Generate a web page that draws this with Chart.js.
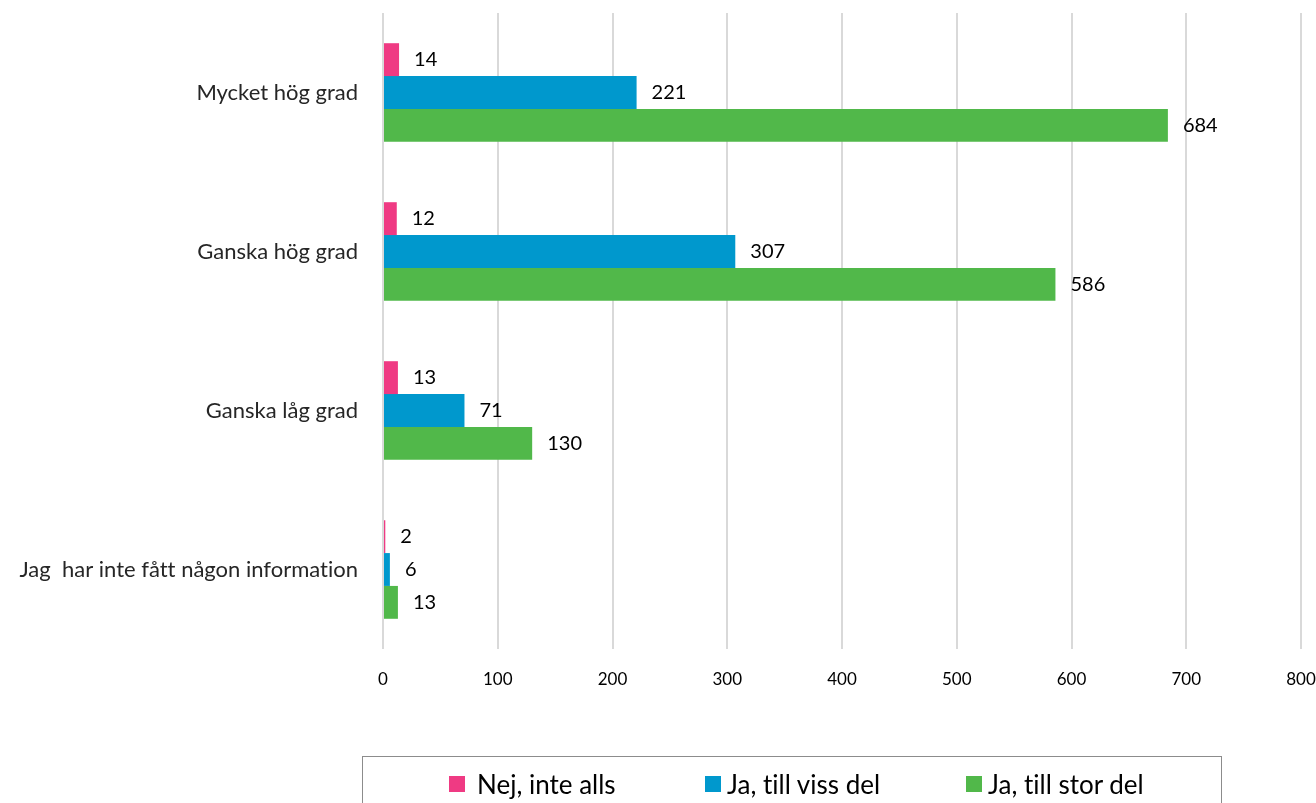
<!DOCTYPE html>
<html>
<head>
<meta charset="utf-8">
<script src="https://cdn.jsdelivr.net/npm/chart.js@4/dist/chart.umd.min.js"></script>
<style>
  html, body { margin: 0; padding: 0; background: #fff; overflow: hidden; }
  #wrap { position: relative; width: 1316px; height: 803px; }
  #legend {
    position: absolute; left: 362px; top: 756px; width: 858px; height: 60px;
    border: 1.5px solid #8c8c8c; font-family: Lato, "Open Sans", sans-serif;
    font-size: 26px; color: #000; font-variant-ligatures: none;
  }
  .item { position: absolute; top: 11px; display: flex; align-items: center; white-space: nowrap; }
  .box { width: 16px; height: 16px; margin-right: 12px; }
</style>
</head>
<body>
<div id="wrap">
  <canvas id="barChart" width="1316" height="803"></canvas>
  <div id="legend"></div>
</div>
<script>
const categories = ['Mycket hög grad', 'Ganska hög grad', 'Ganska låg grad', 'Jag  har inte fått någon information'];
const seriesNames = ['Nej, inte alls', 'Ja, till viss del', 'Ja, till stor del'];
const nejInteAlls = [14, 12, 13, 2];
const jaTillVissDel = [221, 307, 71, 6];
const jaTillStorDel = [684, 586, 130, 13];
const xTicks = [0, 100, 200, 300, 400, 500, 600, 700, 800];
const colors = ['#ef3a83', '#0098cd', '#51b84a'];

const fontFamily = 'Lato, "Open Sans", sans-serif';

// no ligatures in canvas text ("ti" in Lato)
const noLigatures = {
    id: 'noLigatures',
    beforeDraw(chart) {
        chart.ctx.textRendering = 'optimizeSpeed';
    }
};

// value labels to the right of each bar
const valueLabels = {
    id: 'valueLabels',
    afterDatasetsDraw(chart) {
        const ctx = chart.ctx;
        ctx.save();
        ctx.font = '20px ' + fontFamily;
        ctx.fillStyle = '#000';
        ctx.textBaseline = 'middle';
        chart.data.datasets.forEach((ds, i) => {
            chart.getDatasetMeta(i).data.forEach((bar, j) => {
                ctx.fillText(ds.data[j], bar.x + 15, bar.y);
            });
        });
        ctx.restore();
    }
};

const ctx = document.getElementById('barChart').getContext('2d');
const barChart = new Chart(ctx, {
    type: 'bar',
    data: {
        labels: categories,
        datasets: [
            { label: seriesNames[0], data: nejInteAlls, backgroundColor: colors[0] },
            { label: seriesNames[1], data: jaTillVissDel, backgroundColor: colors[1] },
            { label: seriesNames[2], data: jaTillStorDel, backgroundColor: colors[2] }
        ]
    },
    options: {
        indexAxis: 'y',
        responsive: false,
        animation: false,
        layout: { padding: { left: 10, right: 15, top: 13, bottom: 0 } },
        datasets: { bar: { categoryPercentage: 0.62, barPercentage: 1.0 } },
        plugins: { legend: { display: false }, tooltip: { enabled: false } },
        scales: {
            x: {
                min: 0,
                max: 800,
                afterBuildTicks: (scale) => { scale.ticks = xTicks.map(v => ({ value: v })); },
                grid: { color: '#d9d9d9', lineWidth: 2, drawTicks: false },
                border: { display: false },
                ticks: { padding: 20, color: '#000', font: { family: fontFamily, size: 17 } },
                afterFit: (scale) => {
                    scale.height = 154;
                    scale.paddingLeft = 0;
                    scale.paddingRight = 0;
                }
            },
            y: {
                grid: { display: false },
                border: { display: false },
                ticks: { padding: 17, color: '#262626', font: { family: fontFamily, size: 22 } },
                afterFit: (scale) => {
                    scale.width = 373;
                    scale.paddingTop = 0;
                    scale.paddingBottom = 0;
                }
            }
        }
    },
    plugins: [noLigatures, valueLabels]
});

// legend built from the datasets
const legend = document.getElementById('legend');
const itemLeft = [86, 342, 603];
barChart.data.datasets.forEach((ds, i) => {
    const item = document.createElement('div');
    item.className = 'item';
    item.style.left = itemLeft[i] + 'px';
    const box = document.createElement('span');
    box.className = 'box';
    box.style.background = ds.backgroundColor;
    if (i > 0) box.style.marginRight = '6px';
    const txt = document.createElement('span');
    txt.textContent = ds.label;
    item.appendChild(box);
    item.appendChild(txt);
    legend.appendChild(item);
});
</script>
</body>
</html>
